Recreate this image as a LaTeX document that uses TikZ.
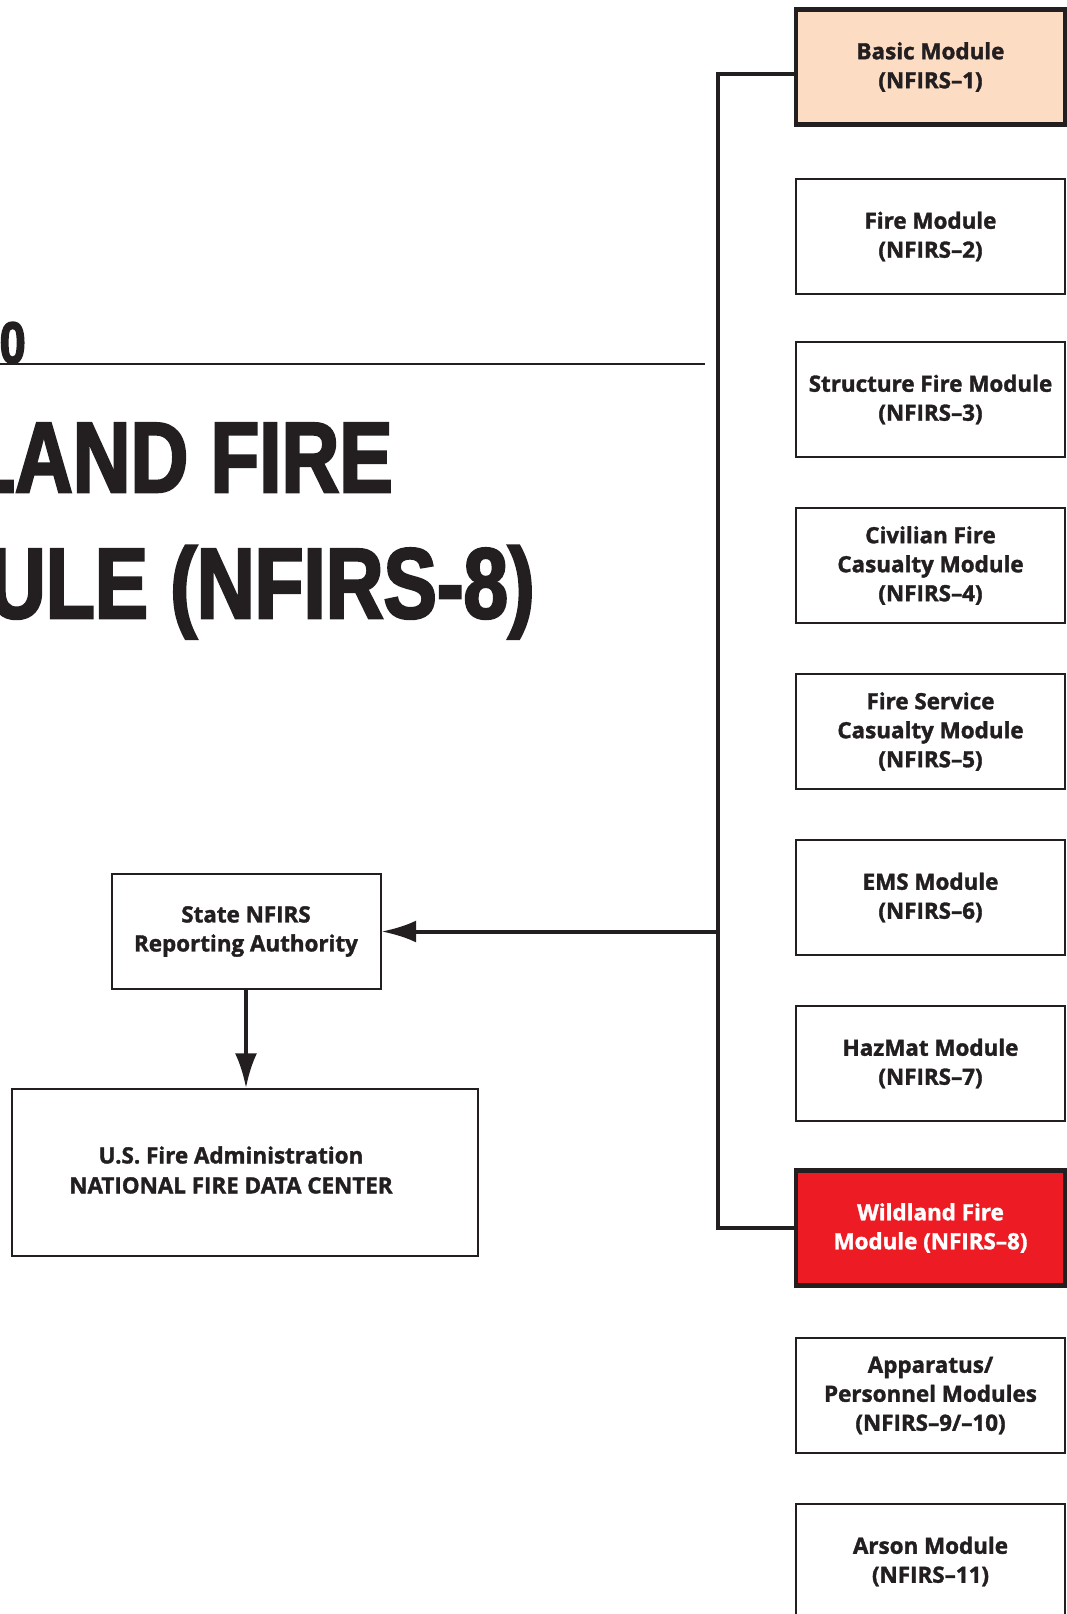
\documentclass[tikz,border=0pt]{standalone}
\usepackage{fontspec}
\setmainfont{Open Sans}[BoldFeatures={FakeBold=1.5}]
\newfontfamily\titlefont{Liberation Sans}[FakeStretch=0.80, BoldFeatures={FakeBold=2.5}]
\usetikzlibrary{arrows.meta}
\definecolor{ink}{HTML}{231F20}
\definecolor{peach}{HTML}{FDDCC4}
\definecolor{firered}{HTML}{ED1C24}
\tikzset{
  modbox/.style={draw=ink, line width=1.5pt, fill=white, text=ink,
    minimum width=201.75pt, minimum height=86.25pt, inner sep=0pt,
    align=center, font=\bfseries\fontsize{16.8}{21.75}\selectfont},
  keybox/.style={modbox, line width=3.4pt},
  flow/.style={draw=ink, line width=3pt},
}
\begin{document}
\begin{tikzpicture}[x=0.75pt, y=-0.75pt, >={Latex[length=26pt,width=16.5pt]}]
		\useasboundingbox (0,0) rectangle (1067,1614);
		% titolo
		\node [anchor=base east, inner sep=0pt, text=ink, font=\titlefont\bfseries\fontsize{44}{44}\selectfont] (chap) at (26,363) {0};
		\draw [ink, line width=1.8pt] (0,364) -- (705,364);
		\node [anchor=base east, inner sep=0pt, text=ink, font=\titlefont\bfseries\fontsize{75}{75}\selectfont] (titleA) at (393,492) {LAND FIRE};
		\node [anchor=base east, inner sep=0pt, text=ink, font=\titlefont\bfseries\fontsize{75}{75}\selectfont] (titleB) at (535,618) {ULE (NFIRS-8)};
		% moduli
		\node [keybox, fill=peach] (basic) at (930.5,67) {Basic Module\\(NFIRS–1)};
		\node [modbox] (fire) at (930.5,236.5) {Fire Module\\(NFIRS–2)};
		\node [modbox] (struct) at (930.5,399.5) {Structure Fire Module\\(NFIRS–3)};
		\node [modbox] (civil) at (930.5,565.5) {Civilian Fire\\Casualty Module\\(NFIRS–4)};
		\node [modbox] (service) at (930.5,731.5) {Fire Service\\Casualty Module\\(NFIRS–5)};
		\node [modbox] (ems) at (930.5,897.5) {EMS Module\\(NFIRS–6)};
		\node [modbox] (hazmat) at (930.5,1063.5) {HazMat Module\\(NFIRS–7)};
		\node [keybox, fill=firered, text=white] (wild) at (930.5,1228) {Wildland Fire\\Module (NFIRS–8)};
		\node [modbox] (appar) at (930.5,1395.5) {Apparatus/\\Personnel Modules\\(NFIRS–9/–10)};
		\node [modbox] (arson) at (930.5,1561.5) {Arson Module\\(NFIRS–11)};
		% destinazioni
		\node [modbox] (state) at (246,931.5) {State NFIRS\\Reporting Authority};
		\node [modbox, minimum width=349.5pt, minimum height=125.25pt] (usfa) at (245,1172.5) {};
		\node [text=ink, align=center, font=\bfseries\fontsize{16.8}{22.5}\selectfont] (usfatext) at (231,1170) {U.S. Fire Administration\\NATIONAL FIRE DATA CENTER};
		% collegamenti
		\coordinate (bus) at (718,600);
		\draw [flow] ([yshift=-5.25pt]basic.west) -| (bus) |- (wild.west);
		\draw [flow, ->] (bus |- state.east) -- (state.east);
		\draw [flow, ->] (state.south) -- (state.south |- usfa.north);
	\end{tikzpicture}
\end{document}
